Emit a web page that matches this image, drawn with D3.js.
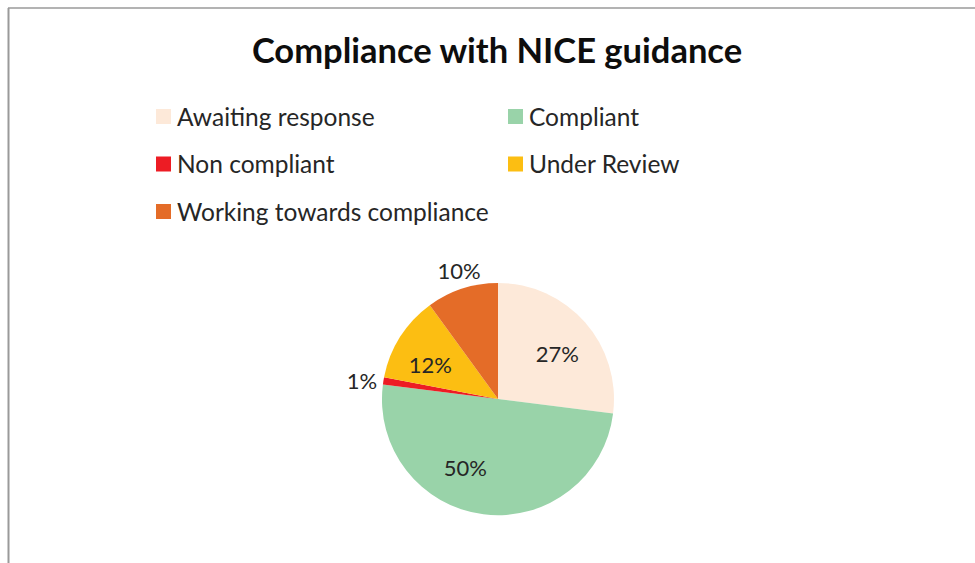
<!DOCTYPE html>
<html lang="en">
<head>
    <meta charset="UTF-8">
    <title>Compliance with NICE guidance</title>
    <script src="https://d3js.org/d3.v7.min.js"></script>
    <style>
        body {
            margin: 0;
            background: #fff;
            font-family: Lato, "Open Sans", sans-serif;
        }
        .slice-label {
            font-size: 22px;
            fill: #262626;
        }
        .legend-label {
            font-size: 24.5px;
            fill: #262626;
        }
    </style>
</head>
<body>
    <div id="chart"></div>
    <script>
        // chart data
        var categories = ["Awaiting response", "Compliant", "Non compliant", "Under Review", "Working towards compliance"];
        var values = [27, 50, 1, 12, 10];
        var colours = ["#FDE9D9", "#99D3A9", "#ED1C24", "#FCBE12", "#E46C28"];

        var w = 975, h = 563;

        var svg = d3.select("#chart").append("svg")
            .attr("width", w)
            .attr("height", h);

        // chart frame (only top and left edges are visible)
        svg.append("line")
            .attr("x1", 8).attr("y1", 8).attr("x2", w).attr("y2", 8)
            .attr("stroke", "#9a9a9a").attr("stroke-width", 1.5);
        svg.append("line")
            .attr("x1", 8.5).attr("y1", 8).attr("x2", 8.5).attr("y2", h)
            .attr("stroke", "#9a9a9a").attr("stroke-width", 2);

        // Title
        svg.append("text")
            .attr("x", 497)
            .attr("y", 63)
            .attr("text-anchor", "middle")
            .style("font-size", "34.5px")
            .style("font-weight", "bold")
            .style("fill", "#0d0d0d")
            .text("Compliance with NICE guidance");

        // Legend, two columns
        var legend = svg.append("g");
        var item = legend.selectAll("g")
            .data(categories)
            .enter().append("g")
            .attr("transform", function(d, i) {
                var col = i % 2, row = Math.floor(i / 2);
                return "translate(" + (156 + col * 352) + "," + (117 + row * 47.5) + ")";
            });
        item.append("rect")
            .attr("x", 0).attr("y", -8)
            .attr("width", 15).attr("height", 15)
            .attr("fill", function(d, i) { return colours[i]; });
        item.append("text")
            .attr("class", "legend-label")
            .attr("x", 21)
            .attr("y", 0)
            .attr("dy", "0.35em")
            .text(function(d) { return d; });

        // Pie
        var cx = 498, cy = 399, r = 116;
        var pie = d3.pie().sort(null).value(function(d) { return d; });
        var arcs = pie(values);
        var arc = d3.arc().innerRadius(0).outerRadius(r);
        var inner = d3.arc().innerRadius(r * 0.6).outerRadius(r * 0.6);
        var outer = d3.arc().innerRadius(r * 1.17).outerRadius(r * 1.17);
        // small nudges so labels sit where Excel's best-fit put them
        var nudge = [[7, 1], [-24, 0], [-2, 4], [-9, 4], [3, 1]];

        var g = svg.append("g").attr("transform", "translate(" + cx + "," + cy + ")");
        g.selectAll("path")
            .data(arcs)
            .enter().append("path")
            .attr("d", arc)
            .attr("fill", function(d, i) { return colours[i]; });

        // Labels: small slices outside the pie
        g.selectAll("text")
            .data(arcs)
            .enter().append("text")
            .attr("class", "slice-label")
            .attr("text-anchor", "middle")
            .attr("dy", "0.35em")
            .attr("transform", function(d, i) {
                var p = (d.data <= 10) ? outer.centroid(d) : inner.centroid(d);
                return "translate(" + (p[0] + nudge[i][0]) + "," + (p[1] + nudge[i][1]) + ")";
            })
            .text(function(d) { return d.data + "%"; });
    </script>
</body>
</html>
